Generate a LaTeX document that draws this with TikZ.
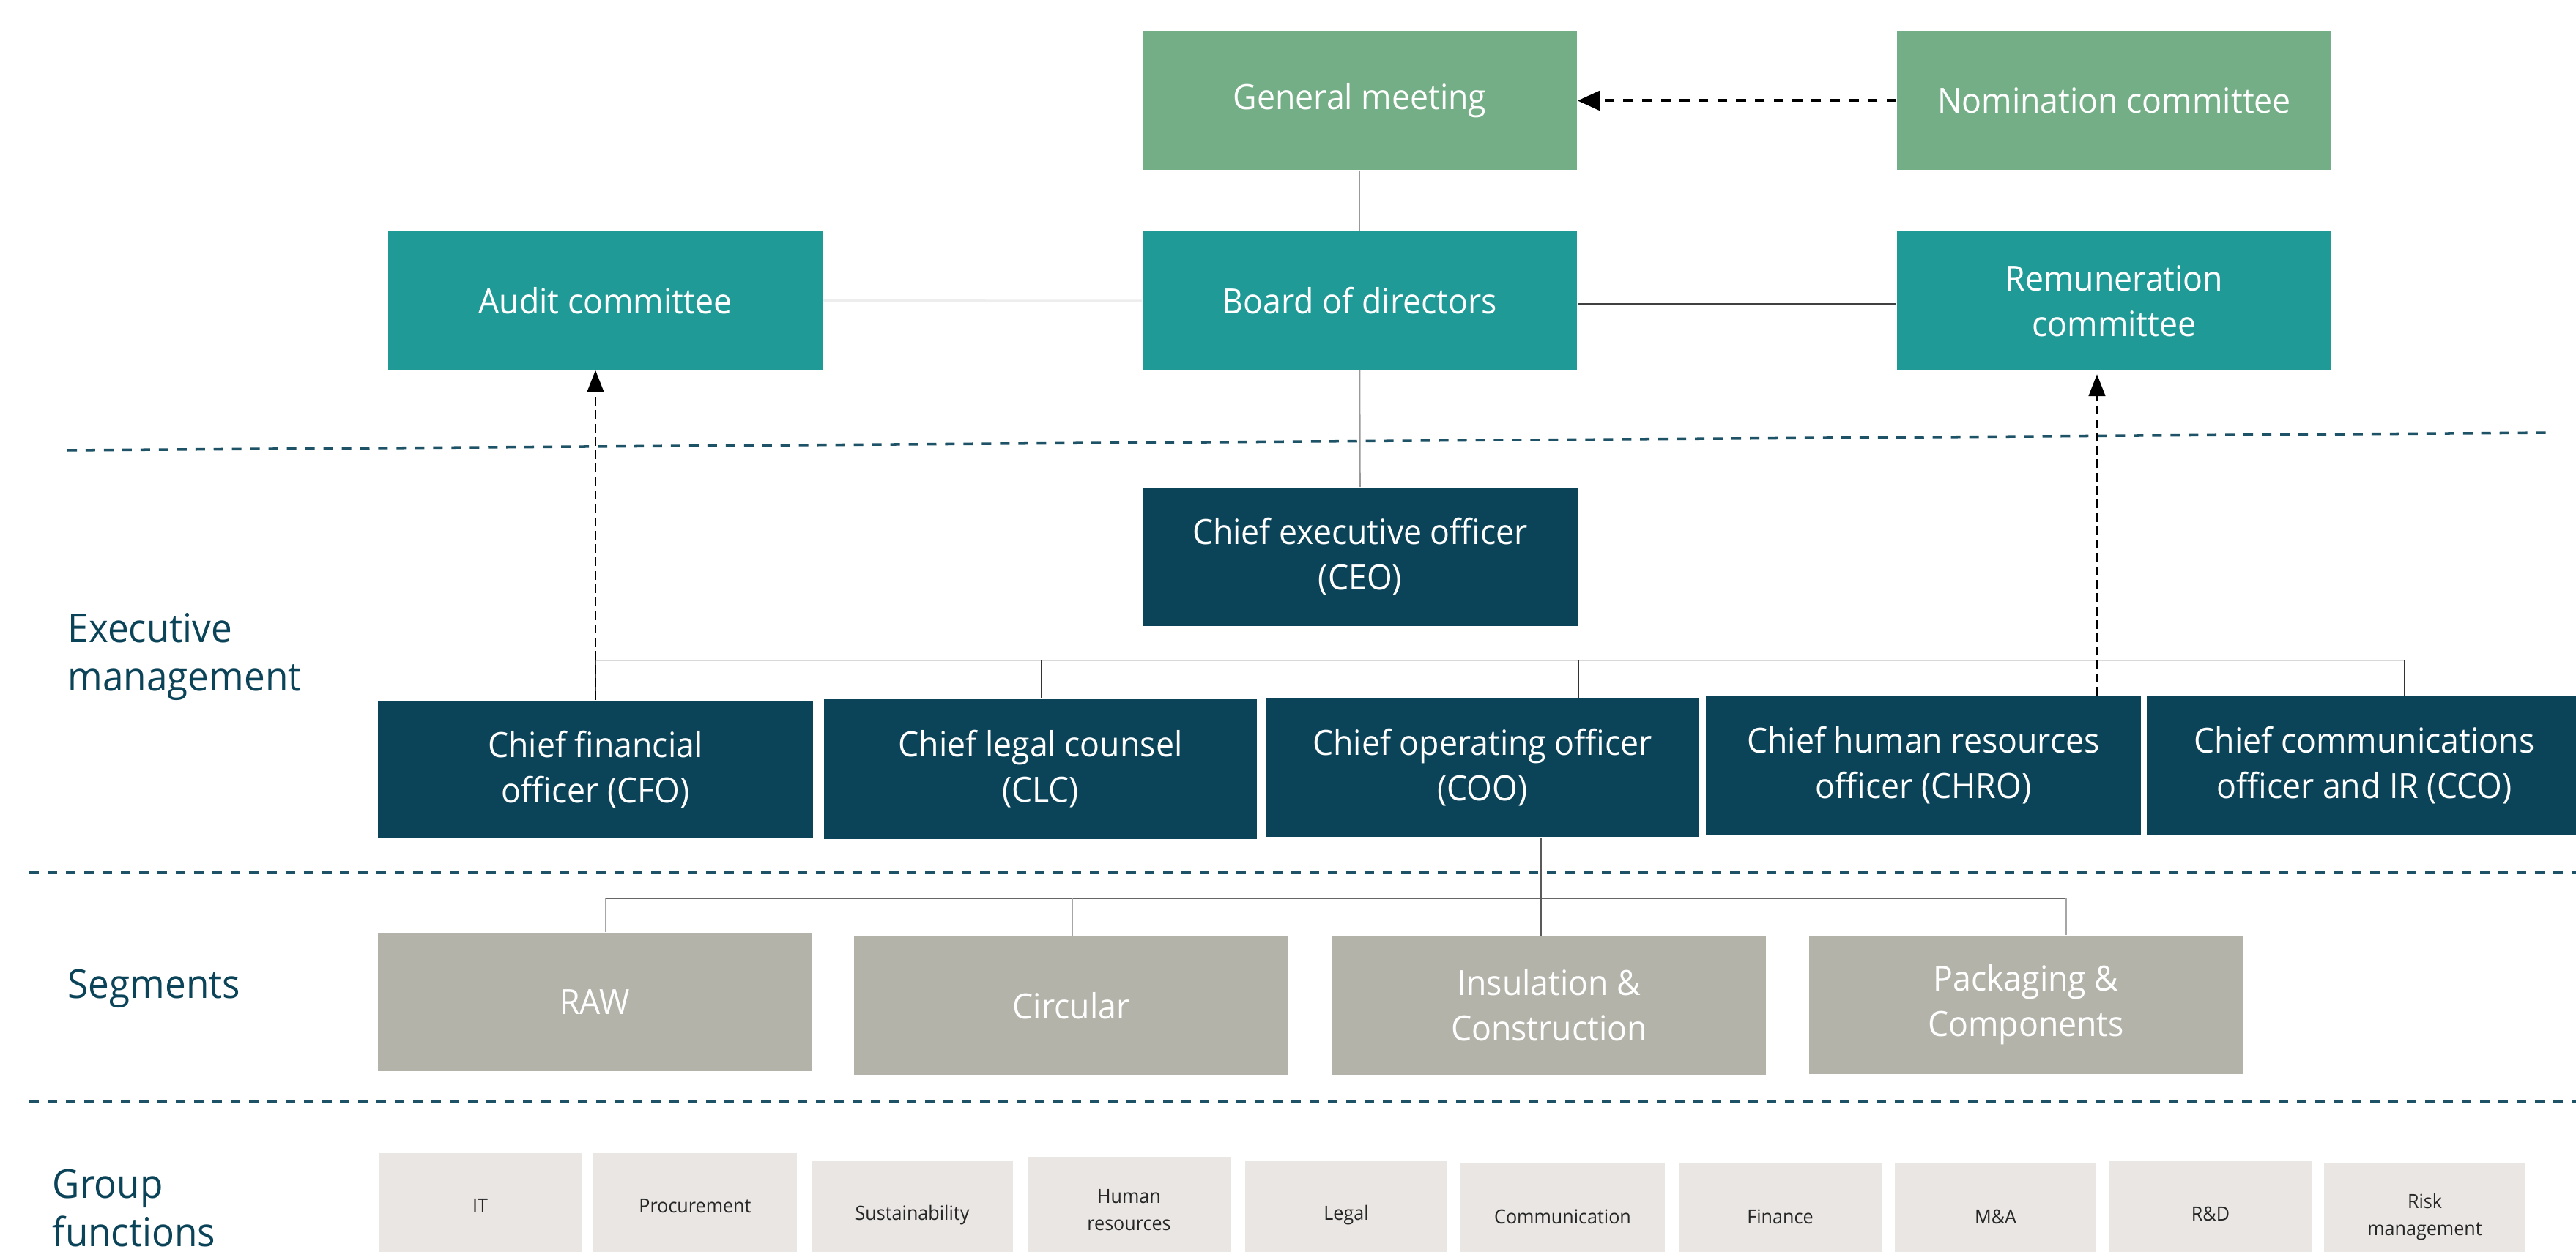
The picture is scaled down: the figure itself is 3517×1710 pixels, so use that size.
\documentclass[tikz,border=0pt]{standalone}
\usepackage{fontspec}
\setmainfont{Open Sans}[FakeStretch=0.94]
\usetikzlibrary{arrows.meta}
\definecolor{gmgreen}{RGB}{116,174,134}
\definecolor{tealbox}{RGB}{31,154,150}
\definecolor{navybox}{RGB}{11,67,88}
\definecolor{segbox}{RGB}{179,179,170}
\definecolor{gfbox}{RGB}{233,230,228}
\definecolor{sepcol}{RGB}{30,82,102}
\definecolor{buscol}{RGB}{217,217,217}
\begin{document}
\begin{tikzpicture}[x=0.01cm,y=-0.01cm,
  box/.style={rectangle, inner sep=0pt, minimum width=5.93cm, minimum height=1.89cm,
    align=center, text=white, font=\fontsize{13.5}{17.6}\selectfont},
  upper/.style={box, fill=gmgreen},
  board/.style={box, fill=tealbox},
  exec/.style={box, fill=navybox},
  seg/.style={box, fill=segbox, minimum width=5.92cm},
  gftext/.style={align=center, inner sep=0pt, text=black!85, font=\fontsize{7.6}{10.5}\selectfont},
  lbl/.style={align=left, inner sep=0pt, anchor=west, text=navybox, font=\fontsize{15.5}{19}\selectfont},
  sepline/.style={draw=sepcol, line width=1pt, dash pattern=on 3.7pt off 3.4pt},
  thinline/.style={draw=black!40, line width=0.45pt},
  faintline/.style={draw=black!7, line width=0.85pt},
  darkline/.style={draw=black!75, line width=0.85pt},
  bus/.style={draw=buscol, line width=0.7pt},
  drop/.style={draw=black!80, line width=0.4pt},
  segbus/.style={draw=black!60, line width=0.8pt},
  segdrop/.style={draw=black!35, line width=0.45pt},
  nomarrow/.style={draw=black, line width=1.14pt, dash pattern=on 3.8pt off 3.5pt,
    -{Triangle[length=8.8pt,width=7.7pt]}},
  reparrow/.style={draw=black, line width=0.6pt, dash pattern=on 3.4pt off 1.8pt,
    -{Triangle[length=8.5pt,width=6.5pt]}}
]
\useasboundingbox (0,0) rectangle (3517,1710);
\fill[white] (0,0) rectangle (3517,1710);

% separators
\coordinate (s1a) at (92,615);   \coordinate (s1b) at (3486,591);
\coordinate (s2a) at (40,1192);  \coordinate (s2b) at (3517,1192);
\coordinate (s3a) at (40,1504);  \coordinate (s3b) at (3517,1504);
\draw[sepline] (s1a) -- (s1b);
\draw[sepline] (s2a) -- (s2b);
\draw[sepline] (s3a) -- (s3b);

% governance
\node[upper] (gm) at (1856.5,137.5) {General meeting};
\node[upper] (nc) at (2886.5,137.5) {Nomination committee};
\node[board] (ac) at (826.5,410.5) {Audit committee};
\node[board] (bd) at (1856.5,411) {Board of directors};
\node[board] (rc) at (2886.5,411) {Remuneration\\committee};

% executive management
\node[exec] (ceo) at (1857,760.5) {Chief executive officer\\(CEO)};
\node[exec, minimum width=5.94cm, minimum height=1.88cm] (cfo) at (813,1051) {Chief financial\\officer (CFO)};
\node[exec, minimum width=5.91cm, minimum height=1.91cm] (clc) at (1420.5,1050.5) {Chief legal counsel\\(CLC)};
\node[exec, minimum width=5.92cm] (coo) at (2024,1048.5) {Chief operating officer\\(COO)};
\node[exec, minimum width=5.94cm] (chro) at (2626,1045.5) {Chief human resources\\officer (CHRO)};
\node[exec] (cco) at (3228,1045.5) {Chief communications\\officer and IR (CCO)};

% segments
\node[seg] (raw) at (812,1368.5) {RAW};
\node[seg] (circ) at (1462.5,1373.5) {Circular};
\node[seg] (ins) at (2115,1373) {Insulation \&\\Construction};
\node[seg] (pack) at (2766,1372.5) {Packaging \&\\Components};

% group functions
\fill[gfbox] (517,1575) rectangle (794,1710);
\fill[gfbox] (810,1575) rectangle (1088,1710);
\fill[gfbox] (1108,1586) rectangle (1383,1710);
\fill[gfbox] (1403,1580) rectangle (1680,1710);
\fill[gfbox] (1700,1586) rectangle (1976,1710);
\fill[gfbox] (1994,1588) rectangle (2273,1710);
\fill[gfbox] (2292,1588) rectangle (2569,1710);
\fill[gfbox] (2587,1588) rectangle (2862,1710);
\fill[gfbox] (2880,1586) rectangle (3156,1710);
\fill[gfbox] (3173,1588) rectangle (3448,1710);
\node[gftext] (it) at (655.5,1647) {IT};
\node[gftext] (proc) at (949,1647) {Procurement};
\node[gftext] (sust) at (1245.5,1660) {Sustainability};
\node[gftext] (hr) at (1541.5,1653) {Human\\resources};
\node[gftext] (legal) at (1838,1660) {Legal};
\node[gftext] (comm) at (2133.5,1662) {Communication};
\node[gftext] (fin) at (2430.5,1662) {Finance};
\node[gftext] (ma) at (2724.5,1662) {M\&A};
\node[gftext] (rd) at (3018,1658) {R\&D};
\node[gftext] (risk) at (3310.5,1662) {Risk\\management};

% left labels
\node[lbl] (lexec) at (92,897) {Executive\\management};
\node[lbl] (lseg) at (92,1350) {Segments};
\node[lbl] (lgf) at (71,1650) {Group\\functions};

% governance connectors
\draw[thinline] (gm.south) -- (bd.north);
\draw[thinline] (bd.south) -- (ceo.north);
\draw[faintline] (ac.east) -- (bd.west);
\draw[darkline] ([yshift=-0.05cm]bd.east) -- ([yshift=-0.05cm]rc.west);
\draw[nomarrow] (nc.west) -- (gm.east);

% executive bus
\coordinate (b1) at (813,902);
\coordinate (b2) at (1422,902);
\coordinate (b3) at (2155,902);
\coordinate (b4) at (2863,902);
\coordinate (b5) at (3283,902);
\draw[bus] (b1) -- (b5);
\draw[drop] (b1) -- (cfo.north);
\draw[drop] (b2) -- (b2 |- clc.north);
\draw[drop] (b3) -- (b3 |- coo.north);
\draw[drop] (b5) -- (b5 |- cco.north);
\draw[reparrow] (cfo.north) -- (cfo.north |- ac.south);
\draw[reparrow] (b4 |- chro.north) -- ([yshift=-0.05cm]b4 |- rc.south);

% segment bus
\coordinate (g1) at (827,1227);
\coordinate (g2) at (1464,1227);
\coordinate (g3) at (2104,1227);
\coordinate (g4) at (2821,1227);
\draw[segbus] (g1) -- (g4);
\draw[segdrop] (g1) -- (g1 |- raw.north);
\draw[segdrop] (g2) -- (g2 |- circ.north);
\draw[segdrop] (g4) -- (g4 |- pack.north);
\draw[drop, draw=black!65] (g3 |- coo.south) -- (g3 |- ins.north);
\end{tikzpicture}
\end{document}
